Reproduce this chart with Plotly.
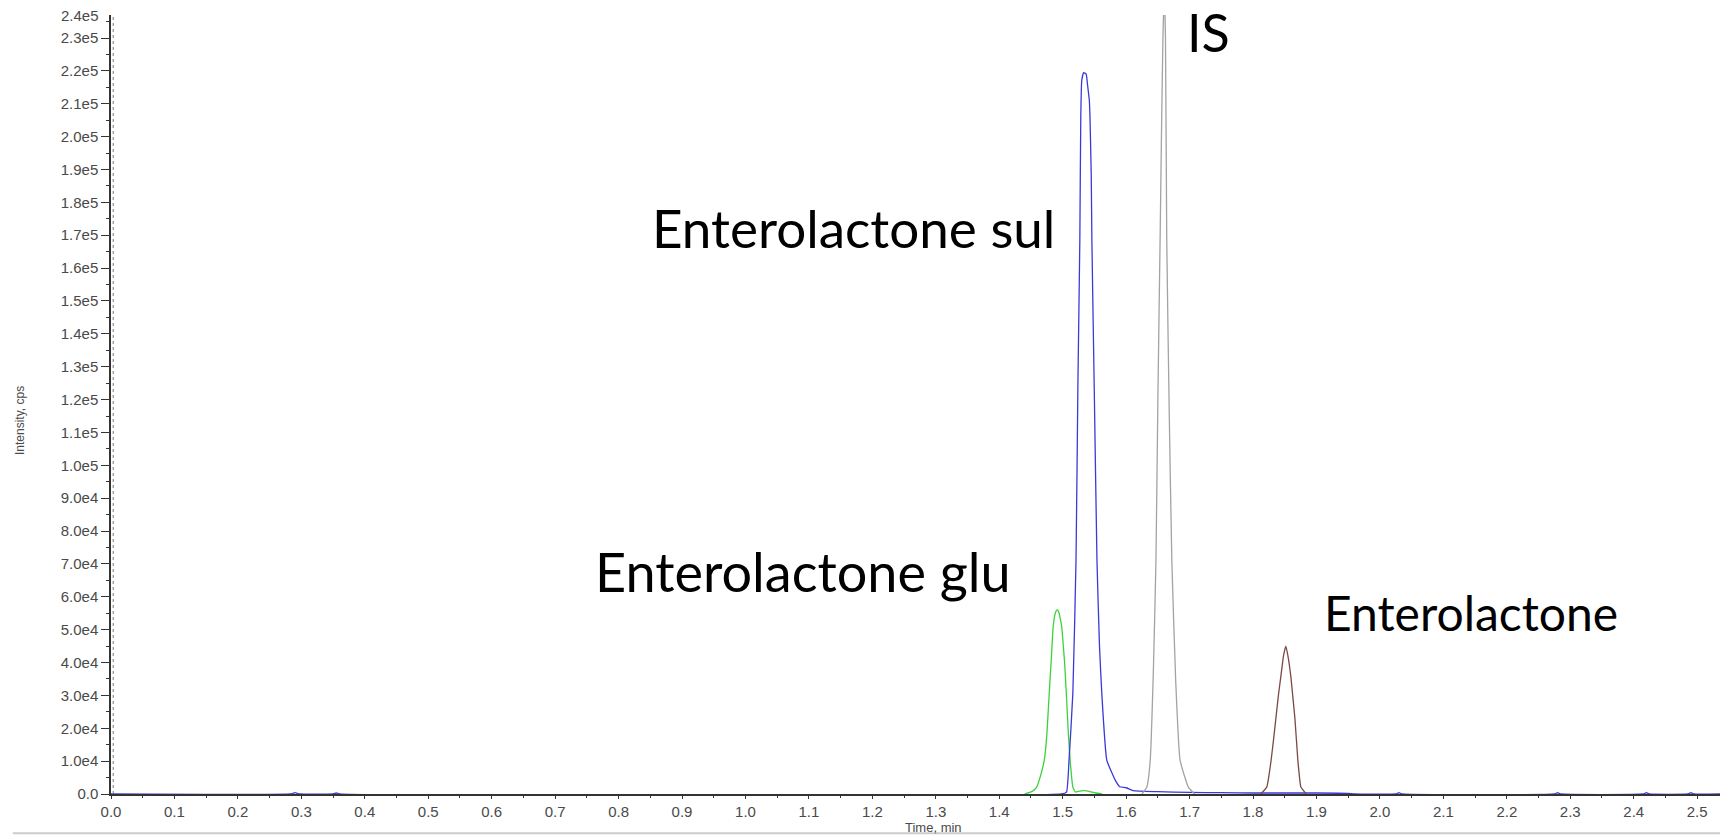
import plotly.graph_objects as go

# Extracted-ion chromatograms (time in min, intensity in cps)
glu_time = [1.440, 1.452, 1.459, 1.465, 1.471, 1.475, 1.478, 1.482, 1.485, 1.488, 1.490,
            1.492, 1.494, 1.496, 1.4985, 1.501, 1.503, 1.5064, 1.509, 1.5117, 1.516,
            1.520, 1.527, 1.535, 1.543, 1.552, 1.562]
glu_int = [0, 800, 2100, 5500, 10300, 18000, 28000, 41000, 50900, 54800, 55800,
           56000, 55200, 53500, 50900, 45000, 40000, 28000, 18000, 10300, 2100,
           600, 900, 1000, 700, 300, 0]

sul_time = [0.0, 0.283, 0.290, 0.297, 0.350, 0.355, 0.360, 1.498, 1.506, 1.510, 1.516,
            1.521, 1.524, 1.527, 1.5285, 1.530, 1.533, 1.537, 1.539, 1.542, 1.543, 1.545,
            1.546, 1.550, 1.554, 1.558, 1.5616, 1.5695, 1.5826, 1.590, 1.600, 1.611,
            1.65, 1.70, 1.75, 1.80, 1.85, 1.90, 1.95, 1.96, 2.025, 2.030, 2.035,
            2.275, 2.280, 2.285, 2.415, 2.420, 2.425, 2.485, 2.490, 2.495, 2.536]
sul_int = [0, 0, 400, 0, 0, 300, 0, 0, 600, 10300, 30700,
           71200, 125000, 168500, 206000, 217000, 219500, 219000, 216000, 211000, 206000, 188000,
           168500, 120000, 71200, 45000, 30700, 10300, 4300, 2200, 1900, 1000,
           700, 500, 400, 300, 300, 300, 200, 0, 0, 400, 0,
           0, 400, 0, 0, 400, 0, 0, 400, 0, 0]

is_time = [1.625, 1.6326, 1.638, 1.643, 1.647, 1.650, 1.6535, 1.656, 1.658, 1.660,
           1.662, 1.664, 1.668, 1.672, 1.678, 1.685, 1.698, 1.708]
is_int = [0, 2100, 10300, 38000, 71200, 120000, 168500, 205000, 230000, 244000,
          230000, 168500, 115000, 71200, 35000, 10300, 2100, 0]

ent_time = [1.812, 1.8217, 1.825, 1.8285, 1.832, 1.836, 1.840, 1.8438, 1.848, 1.8517,
            1.855, 1.8596, 1.863, 1.866, 1.8706, 1.873, 1.8754, 1.884]
ent_int = [0, 2100, 5500, 10300, 16000, 23000, 30000, 35700, 42000, 45000,
           42000, 35700, 29000, 23000, 10300, 5500, 2100, 0]

# Threshold marker on the intensity axis
threshold_int = 10000

y_tick_values = [0, 10000, 20000, 30000, 40000, 50000, 60000, 70000, 80000, 90000,
                 100000, 110000, 120000, 130000, 140000, 150000, 160000, 170000,
                 180000, 190000, 200000, 210000, 220000, 230000]
y_tick_labels = ["0.0", "1.0e4", "2.0e4", "3.0e4", "4.0e4", "5.0e4", "6.0e4", "7.0e4",
                 "8.0e4", "9.0e4", "1.0e5", "1.1e5", "1.2e5", "1.3e5", "1.4e5", "1.5e5",
                 "1.6e5", "1.7e5", "1.8e5", "1.9e5", "2.0e5", "2.1e5", "2.2e5", "2.3e5"]
y_top_label = "2.4e5"

# (text, time, intensity, font size)
peak_labels = [
    ("IS", 1.693, 231700, 52),
    ("Enterolactone sul", 0.850, 172300, 53),
    ("Enterolactone glu", 0.760, 67700, 54),
    ("Enterolactone", 1.908, 55300, 48),
]

X_MAX = 2.536
Y_MAX = 237000
TICK_FONT = dict(family="Liberation Sans, Arial, sans-serif", size=15, color="#4a4a4a")

fig = go.Figure()

traces = [
    (glu_time, glu_int, "#3ad43a"),
    (sul_time, sul_int, "#3a3ad6"),
    (is_time, is_int, "#a3a3a3"),
    (ent_time, ent_int, "#7a4a42"),
]
for t, i, c in traces:
    fig.add_trace(go.Scatter(x=t, y=i, mode="lines",
                             line=dict(color=c, width=1.3, shape="spline", smoothing=0.4),
                             hoverinfo="skip"))

fig.add_trace(go.Scatter(x=[-0.008], y=[threshold_int], mode="markers",
                         marker=dict(symbol="triangle-right", size=10, color="#1c1ca8"),
                         cliponaxis=False, hoverinfo="skip"))

annotations = []
for text, x, y, size in peak_labels:
    annotations.append(dict(text=text, x=x, y=y, xref="x", yref="y",
                            xanchor="left", yanchor="middle", showarrow=False,
                            font=dict(family="Lato, sans-serif", size=size, color="#000000")))

annotations.append(dict(text=y_top_label, x=0, y=1, xref="paper", yref="paper",
                        xanchor="right", yanchor="middle", xshift=-10,
                        showarrow=False, font=TICK_FONT))
annotations.append(dict(text="Intensity, cps", x=-0.0566, y=0.48, xref="paper", yref="paper",
                        xanchor="center", yanchor="middle", textangle=-90, showarrow=False,
                        font=dict(family="Liberation Sans, Arial, sans-serif", size=12,
                                  color="#4a4a4a")))
annotations.append(dict(text="Time, min", x=1.297, y=-0.0425, xref="x", yref="paper",
                        xanchor="center", yanchor="middle", showarrow=False,
                        font=dict(family="Liberation Sans, Arial, sans-serif", size=13,
                                  color="#4a4a4a")))

shapes = [
    # dotted guide just inside the intensity axis
    dict(type="line", xref="x", yref="paper", x0=0.0035, x1=0.0035, y0=0, y1=1,
         line=dict(color="#777777", width=1, dash="dot")),
    # light rule under the plot
    dict(type="line", xref="paper", yref="paper", x0=-0.061, x1=1.0, y0=-0.0505, y1=-0.0505,
         line=dict(color="#cccccc", width=2)),
]

fig.update_layout(
    width=1720, height=837,
    margin=dict(l=111, r=0, t=15, b=43),
    paper_bgcolor="white", plot_bgcolor="white",
    showlegend=False,
    annotations=annotations,
    shapes=shapes,
    xaxis=dict(range=[0, X_MAX], dtick=0.1, tick0=0, tickformat=".1f",
               ticks="outside", ticklen=3, tickwidth=1, tickcolor="#333333",
               showline=True, linecolor="#333333", linewidth=1.5,
               showgrid=False, zeroline=False, tickfont=TICK_FONT,
               minor=dict(dtick=0.05, ticklen=2, ticks="outside", tickcolor="#333333")),
    yaxis=dict(range=[0, Y_MAX], tickvals=y_tick_values, ticktext=y_tick_labels,
               ticks="outside", ticklen=8, tickwidth=1, tickcolor="#333333",
               showline=True, linecolor="#333333", linewidth=1.5,
               showgrid=False, zeroline=False, tickfont=TICK_FONT,
               minor=dict(dtick=5000, ticklen=3, ticks="outside", tickcolor="#333333")),
)

fig.write_html("out.html")
